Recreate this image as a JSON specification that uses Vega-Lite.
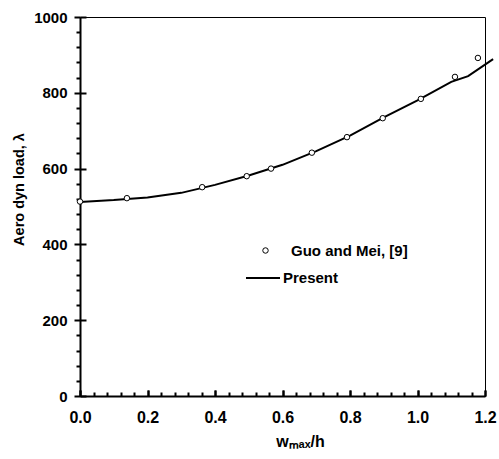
{
  "$schema": "https://vega.github.io/schema/vega-lite/v6.json",
  "width": 405,
  "height": 379,
  "autosize": {"type": "none"},
  "padding": {"left": 80, "top": 17, "right": 14, "bottom": 63},
  "config": {
    "view": {"stroke": "black", "strokeWidth": 1},
    "axis": {
      "grid": false,
      "ticks": true,
      "zindex": 2,
      "labelFont": "Liberation Sans",
      "titleFont": "Liberation Sans",
      "labelFontWeight": "bold",
      "titleFontWeight": "bold",
      "labelColor": "black",
      "titleColor": "black",
      "tickColor": "black",
      "domainColor": "black",
      "domainWidth": 2,
      "tickWidth": 2
    }
  },
  "datasets": {
    "present": [
      {"x": 0, "y": 512, "model": "Present"},
      {"x": 0.1, "y": 517, "model": "Present"},
      {"x": 0.2, "y": 524, "model": "Present"},
      {"x": 0.3, "y": 536, "model": "Present"},
      {"x": 0.4, "y": 557, "model": "Present"},
      {"x": 0.5, "y": 582, "model": "Present"},
      {"x": 0.6, "y": 610, "model": "Present"},
      {"x": 0.7, "y": 646, "model": "Present"},
      {"x": 0.8, "y": 687, "model": "Present"},
      {"x": 0.9, "y": 735, "model": "Present"},
      {"x": 1.0, "y": 780, "model": "Present"},
      {"x": 1.1, "y": 829, "model": "Present"},
      {"x": 1.15, "y": 844, "model": "Present"},
      {"x": 1.224, "y": 889, "model": "Present"}
    ],
    "guo": [
      {"x": 0, "y": 513, "source": "Guo and Mei, [9]"},
      {"x": 0.139, "y": 522, "source": "Guo and Mei, [9]"},
      {"x": 0.362, "y": 551, "source": "Guo and Mei, [9]"},
      {"x": 0.494, "y": 580, "source": "Guo and Mei, [9]"},
      {"x": 0.566, "y": 600, "source": "Guo and Mei, [9]"},
      {"x": 0.687, "y": 642, "source": "Guo and Mei, [9]"},
      {"x": 0.791, "y": 683, "source": "Guo and Mei, [9]"},
      {"x": 0.897, "y": 733, "source": "Guo and Mei, [9]"},
      {"x": 1.01, "y": 784, "source": "Guo and Mei, [9]"},
      {"x": 1.111, "y": 842, "source": "Guo and Mei, [9]"},
      {"x": 1.179, "y": 892, "source": "Guo and Mei, [9]"}
    ]
  },
  "layer": [
    {
      "data": {"name": "present"},
      "mark": {"type": "line", "strokeWidth": 2, "clip": false},
      "encoding": {
        "x": {
          "field": "x", "type": "quantitative",
          "scale": {"domain": [0, 1.2], "nice": false, "zero": false},
          "axis": {
            "orient": "bottom",
            "values": [0, 0.2, 0.4, 0.6, 0.8, 1.0, 1.2],
            "format": ".1f",
            "tickSize": -6,
            "labelPadding": 19,
            "labelFontSize": 16,
            "labelFlush": false,
            "title": "wₘₐₓ/h",
            "titleFontSize": 16,
            "titleX": 220,
            "titleY": 45,
            "titleAlign": "center",
            "titleBaseline": "middle"
          }
        },
        "y": {
          "field": "y", "type": "quantitative",
          "scale": {"domain": [0, 1000], "nice": false},
          "axis": {
            "orient": "left",
            "values": [0, 200, 400, 600, 800, 1000],
            "format": "d",
            "tickSize": 6,
            "labelPadding": 7,
            "labelFontSize": 15,
            "title": "Aero dyn load, λ",
            "titleFontSize": 14.5,
            "titleX": -61,
            "titleY": 172,
            "titleAlign": "center",
            "titleBaseline": "middle"
          }
        },
        "color": {
          "field": "model", "type": "nominal",
          "scale": {"domain": ["Present"], "range": ["black"]},
          "legend": {
            "orient": "none",
            "legendX": 165,
            "legendY": 243,
            "title": null,
            "padding": 0,
            "symbolType": "stroke",
            "symbolSize": 1156,
            "symbolStrokeWidth": 2,
            "symbolStrokeColor": "black",
            "labelFont": "Liberation Sans",
            "labelFontWeight": "bold",
            "labelFontSize": 15,
            "labelColor": "black",
            "labelOffset": 2
          }
        }
      }
    },
    {
      "data": {"name": "guo"},
      "mark": {"type": "point", "shape": "circle", "filled": false, "fill": "white", "strokeWidth": 1, "size": 30, "opacity": 1},
      "encoding": {
        "x": {
          "field": "x", "type": "quantitative",
          "axis": {"orient": "bottom", "values": [0, 0.2, 0.4, 0.6, 0.8, 1.0, 1.2], "tickSize": -6, "labels": false, "domain": false, "title": null}
        },
        "y": {
          "field": "y", "type": "quantitative",
          "axis": {"orient": "left", "values": [0, 200, 400, 600, 800, 1000], "tickSize": -6, "labels": false, "domain": false, "title": null}
        },
        "color": {
          "field": "source", "type": "nominal",
          "scale": {"domain": ["Guo and Mei, [9]"], "range": ["black"]},
          "legend": {
            "orient": "none",
            "legendX": 178,
            "legendY": 226,
            "title": null,
            "padding": 0,
            "symbolType": "circle",
            "symbolSize": 30,
            "symbolFillColor": "white",
            "symbolStrokeColor": "black",
            "symbolStrokeWidth": 1,
            "labelFont": "Liberation Sans",
            "labelFontWeight": "bold",
            "labelFontSize": 15,
            "labelColor": "black",
            "labelOffset": 18
          }
        }
      }
    },
    {
      "data": {"name": "guo"},
      "mark": {"type": "point", "opacity": 0},
      "encoding": {
        "x": {
          "field": "x", "type": "quantitative",
          "axis": {"orient": "bottom", "values": [0.04, 0.08, 0.12, 0.16, 0.24, 0.28, 0.32, 0.36, 0.44, 0.48, 0.52, 0.56, 0.64, 0.68, 0.72, 0.76, 0.84, 0.88, 0.92, 0.96, 1.04, 1.08, 1.12, 1.16], "tickSize": -4, "labels": false, "domain": false, "title": null}
        },
        "y": {
          "field": "y", "type": "quantitative",
          "axis": {"orient": "left", "values": [40, 80, 120, 160, 240, 280, 320, 360, 440, 480, 520, 560, 640, 680, 720, 760, 840, 880, 920, 960], "tickSize": 4, "labels": false, "domain": false, "title": null}
        }
      }
    }
  ],
  "resolve": {
    "axis": {"x": "independent", "y": "independent"},
    "scale": {"color": "independent"},
    "legend": {"color": "independent"}
  }
}
